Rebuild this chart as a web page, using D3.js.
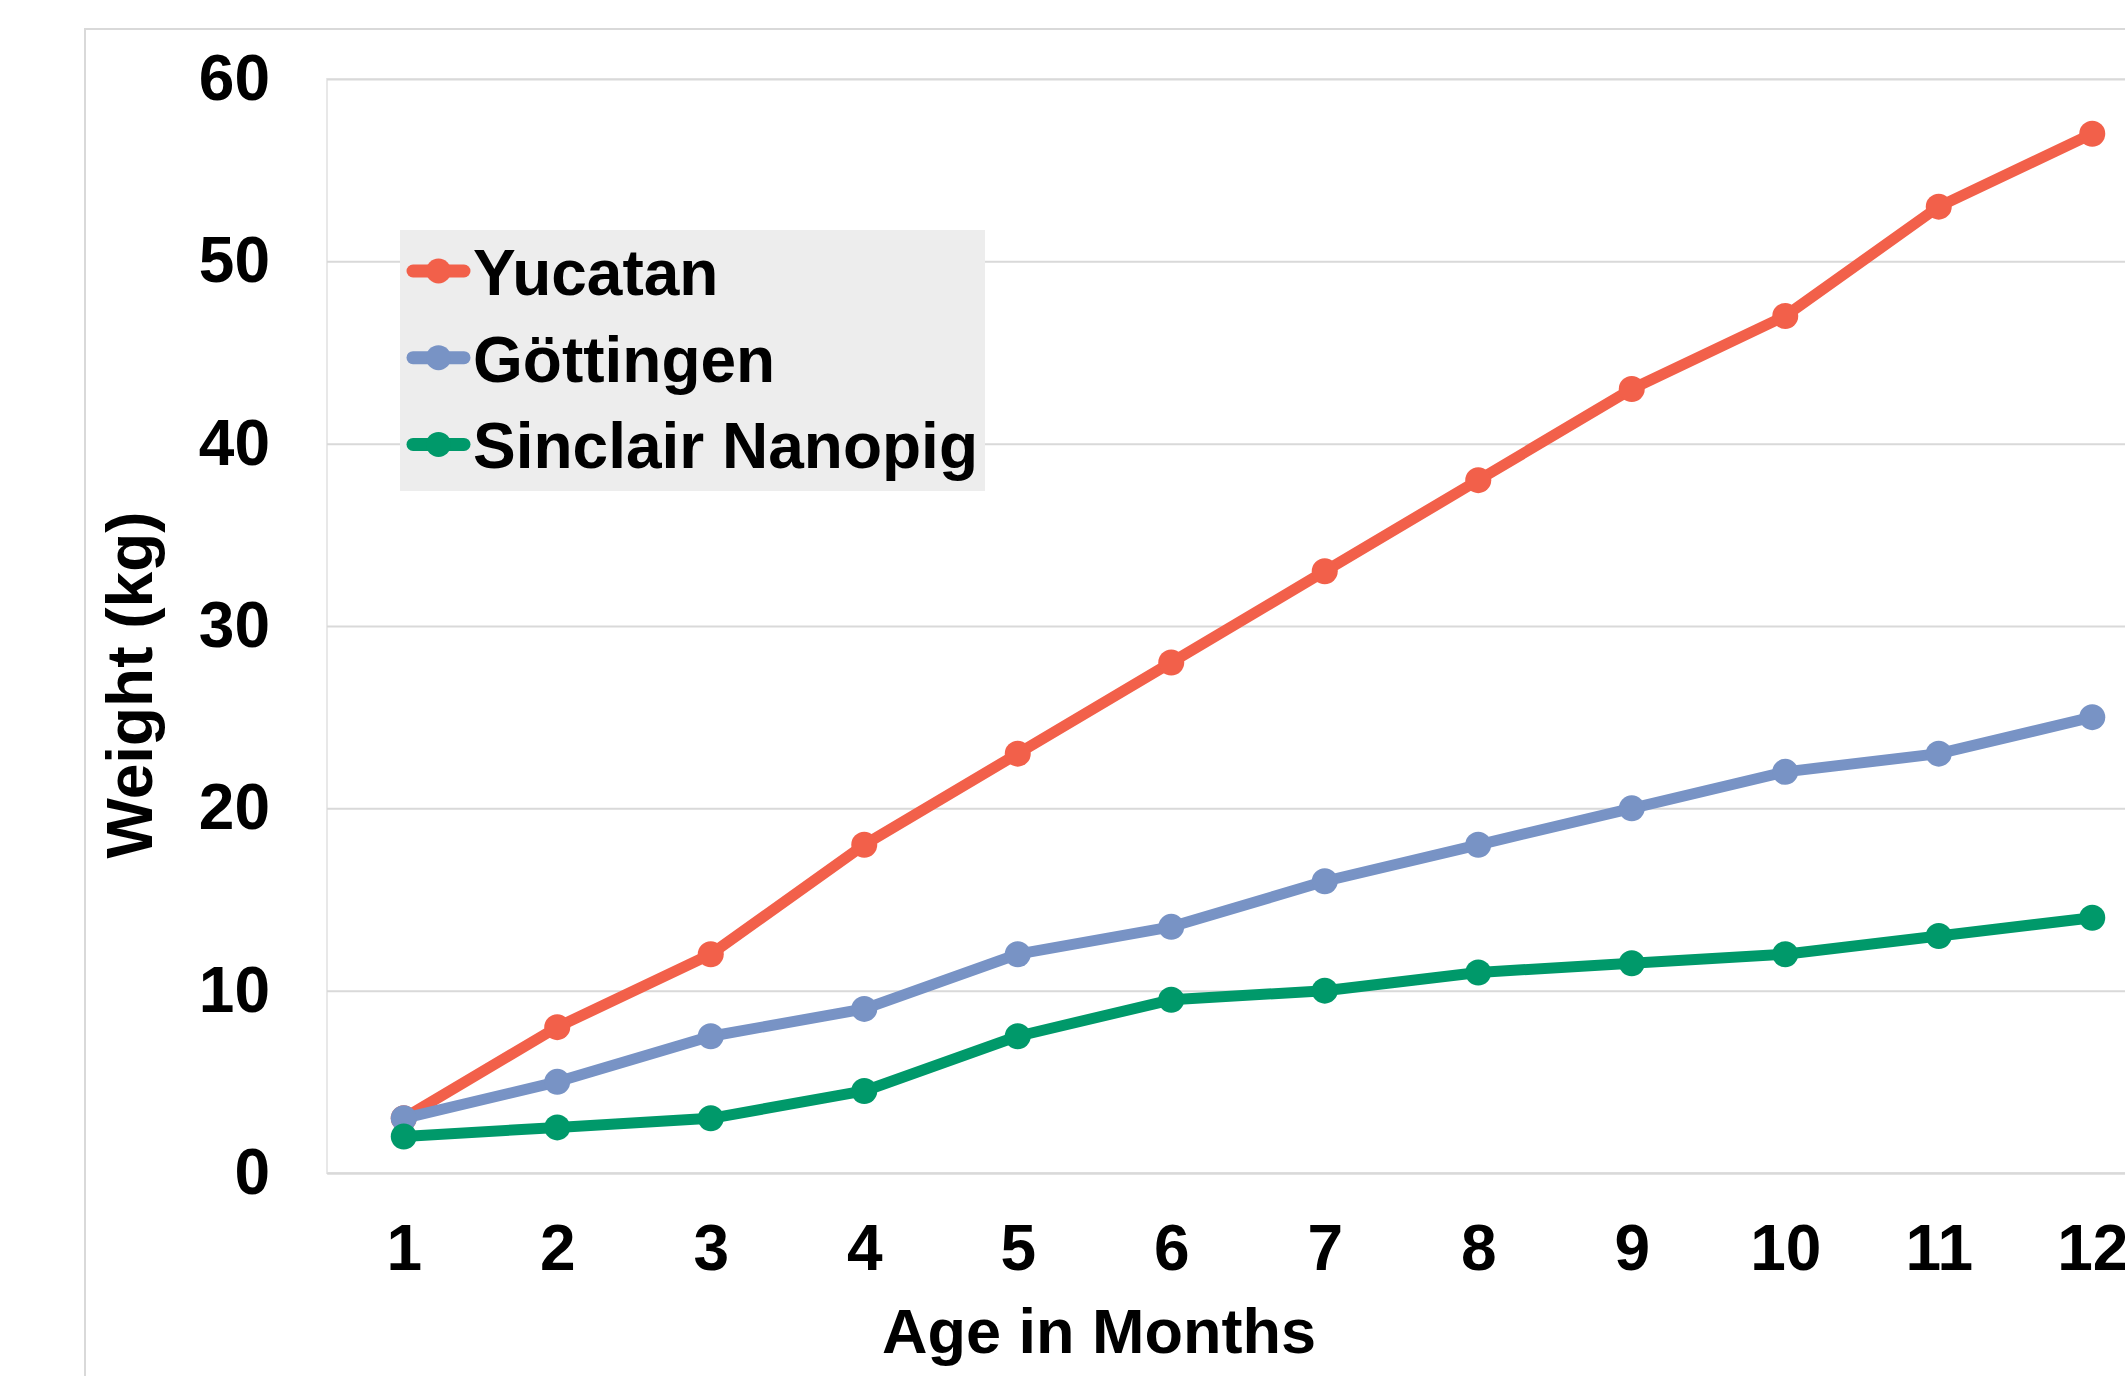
<!DOCTYPE html>
<html lang="en">
<head>
  <meta charset="UTF-8">
  <title>Pig Weight by Age</title>
  <script src="https://d3js.org/d3.v7.min.js"></script>
  <style>
    body { margin: 0; background: #fff; }
    text { font-family: "Liberation Sans", Arial, sans-serif; font-weight: bold; fill: #000; }
  </style>
</head>
<body>
<div class="main"></div>
<script>

  // chart data
  const months = ["1", "2", "3", "4", "5", "6", "7", "8", "9", "10", "11", "12"];
  const yucatan = [3, 8, 12, 18, 23, 28, 33, 38, 43, 47, 53, 57];
  const gottingen = [3, 5, 7.5, 9, 12, 13.5, 16, 18, 20, 22, 23, 25];
  const sinclair = [2, 2.5, 3, 4.5, 7.5, 9.5, 10, 11, 11.5, 12, 13, 14];
  const seriesNames = ["Yucatan", "Göttingen", "Sinclair Nanopig"];
  const seriesColors = ["#F2604A", "#7893C5", "#00996A"];
  const yTicks = [0, 10, 20, 30, 40, 50, 60];

  const width = 2125, height = 1376;
  const plotLeft = 327, plotTop = 79, plotBottom = 1173, plotRight = 2169;

  let svg = d3.select(".main")
          .append("svg")
          .attr("width", width)
          .attr("height", height)
          .style("display", "block");

  // outer chart frame (runs off the picture on the right and bottom)
  svg.append("rect")
          .attr("x", 85).attr("y", 29)
          .attr("width", 2200).attr("height", 1400)
          .style("fill", "none")
          .style("stroke", "#d9d9d9")
          .style("stroke-width", 2);

  let xScale = d3.scalePoint()
          .domain(months)
          .range([plotLeft, plotRight])
          .padding(0.5);

  let yScale = d3.scaleLinear()
          .domain([0, 60])
          .range([plotBottom, plotTop]);

  // plot area border
  svg.append("rect")
          .attr("x", plotLeft).attr("y", plotTop)
          .attr("width", plotRight - plotLeft).attr("height", plotBottom - plotTop)
          .style("fill", "none")
          .style("stroke", "#e8e8e8")
          .style("stroke-width", 2);

  // gridlines
  let grid = svg.append("g")
          .attr("transform", `translate(${plotLeft},0)`)
          .call(d3.axisLeft(yScale).tickValues(yTicks).tickSize(-(plotRight - plotLeft)).tickFormat(""));
  grid.select(".domain").remove();
  grid.selectAll("line").style("stroke", "#d9d9d9").style("stroke-width", 2);

  // y axis labels
  let yAxis = svg.append("g")
          .attr("transform", `translate(${plotLeft},0)`)
          .call(d3.axisLeft(yScale).tickValues(yTicks).tickSize(0).tickPadding(57));
  yAxis.select(".domain").remove();
  yAxis.selectAll("text").style("font-size", "64px").style("font-family", null);

  // x axis
  let xAxis = svg.append("g")
          .attr("transform", `translate(0,${plotBottom})`)
          .call(d3.axisBottom(xScale).tickSize(0).tickPadding(52));
  xAxis.select(".domain").style("stroke", "#d9d9d9").style("stroke-width", 2);
  xAxis.selectAll("text").style("font-size", "64px").style("font-family", null);

  // axis titles
  svg.append("text")
          .attr("transform", "translate(152,685) rotate(-90)")
          .attr("text-anchor", "middle")
          .style("font-size", "64px")
          .text("Weight (kg)");

  svg.append("text")
          .attr("x", 1099).attr("y", 1353)
          .attr("text-anchor", "middle")
          .style("font-size", "63px")
          .text("Age in Months");

  let line = d3.line()
          .x((d, i) => xScale(months[i]))
          .y(d => yScale(d));

  let allSeries = [yucatan, gottingen, sinclair];

  allSeries.forEach(function (values, s) {
    let g = svg.append("g").attr("class", "series");
    g.append("path")
            .datum(values)
            .attr("d", line)
            .style("fill", "none")
            .style("stroke", seriesColors[s])
            .style("stroke-width", 11)
            .style("stroke-linejoin", "round");
    g.selectAll("circle")
            .data(values)
            .join("circle")
            .attr("cx", (d, i) => xScale(months[i]))
            .attr("cy", d => yScale(d))
            .attr("r", 13)
            .style("fill", seriesColors[s]);
  });

  // legend
  let legend = svg.append("g");
  legend.append("rect")
          .attr("x", 400).attr("y", 230)
          .attr("width", 585).attr("height", 261)
          .style("fill", "#ededed");

  seriesNames.forEach(function (name, i) {
    let cy = 271 + i * 86.7;
    legend.append("line")
            .attr("x1", 413).attr("x2", 464)
            .attr("y1", cy).attr("y2", cy)
            .style("stroke", seriesColors[i])
            .style("stroke-width", 13)
            .style("stroke-linecap", "round");
    legend.append("circle")
            .attr("cx", 438.5).attr("cy", cy)
            .attr("r", 12.5)
            .style("fill", seriesColors[i]);
    legend.append("text")
            .attr("x", 473).attr("y", cy + 24)
            .style("font-size", "64px")
            .text(name);
  });

</script>
</body>
</html>
